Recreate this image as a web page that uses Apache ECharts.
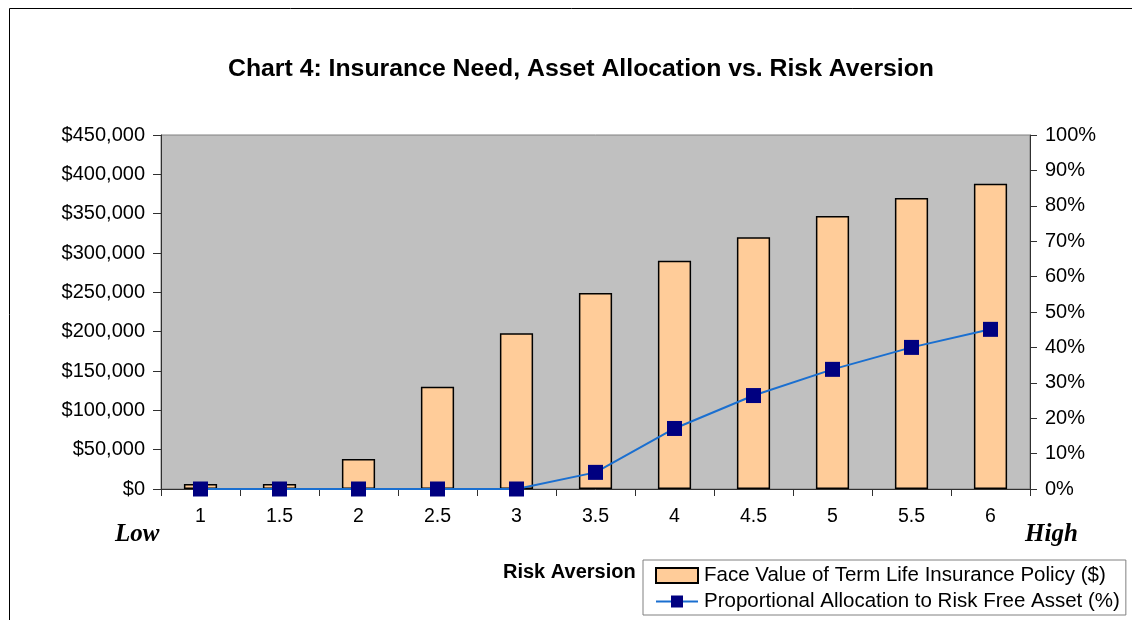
<!DOCTYPE html>
<html>
<head>
<meta charset="utf-8">
<script src="https://cdn.jsdelivr.net/npm/echarts@6/dist/echarts.min.js"></script>
<style>html,body{margin:0;padding:0;background:#fff}#c{width:1132px;height:620px}</style>
</head>
<body>
<div id="c"></div>
<script>
var categories = ['1', '1.5', '2', '2.5', '3', '3.5', '4', '4.5', '5', '5.5', '6'];
var faceValue = [6500, 6500, 38000, 130000, 198000, 249000, 290000, 320000, 347000, 370000, 388000];
var riskFreeShare = [0, 0, 0, 0, 0, 0.047, 0.171, 0.264, 0.338, 0.40, 0.451];
var titleText = 'Chart 4: Insurance Need, Asset Allocation vs. Risk Aversion';
var barName = 'Face Value of Term Life Insurance Policy ($)';
var lineName = 'Proportional Allocation to Risk Free Asset (%)';

var chart = echarts.init(document.getElementById('c'));
var font = 'Liberation Sans, Arial, sans-serif';
chart.setOption({
  animation: false,
  backgroundColor: '#fff',
  title: {
    text: titleText, left: 223, top: 52,
    textStyle: {fontFamily: font, fontSize: 24.8, fontWeight: 'bold', color: '#000'}
  },
  grid: {
    left: 161, right: 102, top: 135, bottom: 131,
    show: true, backgroundColor: '#C0C0C0', borderColor: '#808080', borderWidth: 1
  },
  legend: {
    orient: 'vertical', left: 643, top: 560,
    padding: [5, 6, 3, 12], itemGap: 5, itemWidth: 42, itemHeight: 15,
    borderColor: '#808080', borderWidth: 1,
    textStyle: {fontFamily: font, fontSize: 20.5, color: '#000', padding: [0, 0, 0, 1]},
    data: [{name: barName, icon: 'rect'}, lineName]
  },
  xAxis: {
    type: 'category', data: categories,
    axisLine: {lineStyle: {color: '#303030', width: 1}},
    axisTick: {show: true, length: 7, lineStyle: {color: '#303030'}},
    axisLabel: {fontFamily: font, fontSize: 19.5, color: '#000', margin: 18},
    splitLine: {show: false}
  },
  yAxis: [{
    type: 'value', min: 0, max: 450000, interval: 50000,
    axisLine: {show: true, lineStyle: {color: '#303030'}},
    axisTick: {show: true, length: 8, lineStyle: {color: '#303030'}},
    axisLabel: {fontFamily: font, fontSize: 20, color: '#000', margin: 16,
      formatter: function (v) { return '$' + v.toLocaleString('en-US'); }},
    splitLine: {show: false}
  }, {
    type: 'value', min: 0, max: 1, interval: 0.1, position: 'right',
    axisLine: {show: true, lineStyle: {color: '#303030'}},
    axisTick: {show: true, length: 7, lineStyle: {color: '#303030'}},
    axisLabel: {fontFamily: font, fontSize: 20, color: '#000', margin: 15,
      formatter: function (v) { return Math.round(v * 100) + '%'; }},
    splitLine: {show: false}
  }],
  series: [{
    name: barName, type: 'bar', data: faceValue, barWidth: '42%',
    itemStyle: {color: '#FFCC99', borderColor: '#000', borderWidth: 1.5}
  }, {
    name: lineName, type: 'line', yAxisIndex: 1, data: riskFreeShare,
    symbol: 'rect', symbolSize: 15, z: 5,
    lineStyle: {color: '#1A6FD0', width: 2},
    itemStyle: {color: '#000080'}
  }],
  graphic: [
    {type: 'rect', left: 7, top: 6, shape: {width: 1200, height: 700}, z: -10,
     style: {fill: 'none', stroke: '#000', lineWidth: 1}},
    {type: 'text', left: 115, top: 522, style: {text: 'Low', font: 'italic bold 25px "Liberation Serif", "Times New Roman", serif', fill: '#000'}},
    {type: 'text', left: 1025, top: 522, style: {text: 'High', font: 'italic bold 25px "Liberation Serif", "Times New Roman", serif', fill: '#000'}},
    {type: 'text', left: 503, top: 562, style: {text: 'Risk Aversion', font: 'bold 20px "Liberation Sans", Arial, sans-serif', fill: '#000'}}
  ]
});
</script>
</body>
</html>
